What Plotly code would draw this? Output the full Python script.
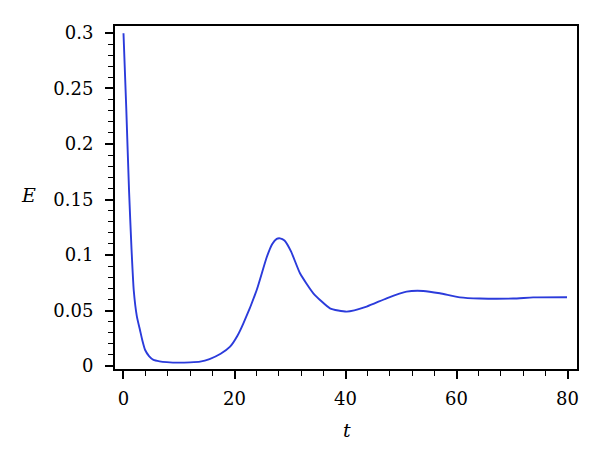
import plotly.graph_objects as go

t_vals = [0, 0.5, 1.0, 1.45, 1.85, 2.4, 2.97, 3.4, 3.9, 4.6, 5.4, 6.5, 7.8, 10.0, 12.0, 13.8, 15.5, 17.5, 19.2, 20.5, 21.6, 24.0, 25.8, 26.8, 27.6, 28.2, 29.0, 30.2, 31.8, 34.2, 37.2, 40.2, 43.8, 47.4, 51.0, 54.0, 57.0, 60.6, 64.2, 70.2, 73.8, 79.9]
E_vals = [0.2997, 0.232, 0.158, 0.105, 0.068, 0.045, 0.0324, 0.023, 0.0144, 0.009, 0.0055, 0.0042, 0.0035, 0.003, 0.0033, 0.0039, 0.0062, 0.011, 0.0174, 0.027, 0.0384, 0.0685, 0.098, 0.110, 0.1145, 0.115, 0.113, 0.103, 0.0835, 0.0655, 0.052, 0.049, 0.0535, 0.061, 0.067, 0.0676, 0.0655, 0.0618, 0.0608, 0.0608, 0.0618, 0.062]

x_ticks = [0, 20, 40, 60, 80]
y_ticks = [0, 0.05, 0.1, 0.15, 0.2, 0.25, 0.3]
y_tick_labels = ["0", "0.05", "0.1", "0.15", "0.2", "0.25", "0.3"]

font_family = "DejaVu Serif, Liberation Serif, serif"

fig = go.Figure()
fig.add_trace(go.Scatter(x=t_vals, y=E_vals, mode="lines",
                         line=dict(color="#2b3bdb", width=1.9, shape="spline", smoothing=0.5),
                         showlegend=False, hoverinfo="skip"))

L, R, T, B = 115, 23, 26, 93
fig.update_layout(
    width=600, height=462,
    margin=dict(l=L, r=R, t=T, b=B),
    paper_bgcolor="white", plot_bgcolor="white",
    font=dict(family=font_family, size=18, color="black"),
    xaxis=dict(range=[-1.53, 81.7], tickvals=x_ticks, ticktext=[str(v) for v in x_ticks],
               showline=True, linecolor="black", linewidth=2, mirror=True,
               ticks="outside", ticklen=8, tickwidth=1.5, tickcolor="black",
               minor=dict(dtick=4, tick0=0, ticks="outside", ticklen=5, tickwidth=1.2, tickcolor="black"),
               showgrid=False, zeroline=False, ticklabelstandoff=4),
    yaxis=dict(range=[-0.0027, 0.3063], tickvals=y_ticks, ticktext=y_tick_labels,
               showline=True, linecolor="black", linewidth=2, mirror=True,
               ticks="outside", ticklen=8, tickwidth=1.5, tickcolor="black",
               minor=dict(dtick=0.01, tick0=0, ticks="outside", ticklen=5, tickwidth=1.2, tickcolor="black"),
               showgrid=False, zeroline=False, ticklabelstandoff=8),
)

pw, ph = 600 - L - R, 462 - T - B
def px2paper(px, py):
    return (px - L) / pw, (462 - B - py) / ph

ex, ey = px2paper(28, 195)
tx, ty = px2paper(347, 430)
fig.add_annotation(text="<i>E</i>", x=ex, y=ey, xref="paper", yref="paper", showarrow=False,
                   xanchor="center", yanchor="middle", font=dict(family=font_family, size=19))
fig.add_annotation(text="<i>t</i>", x=tx, y=ty, xref="paper", yref="paper", showarrow=False,
                   xanchor="center", yanchor="middle", font=dict(family=font_family, size=19))

fig.write_html("out.html", config={"displayModeBar": False},
               post_script="document.body.style.margin='0';")
